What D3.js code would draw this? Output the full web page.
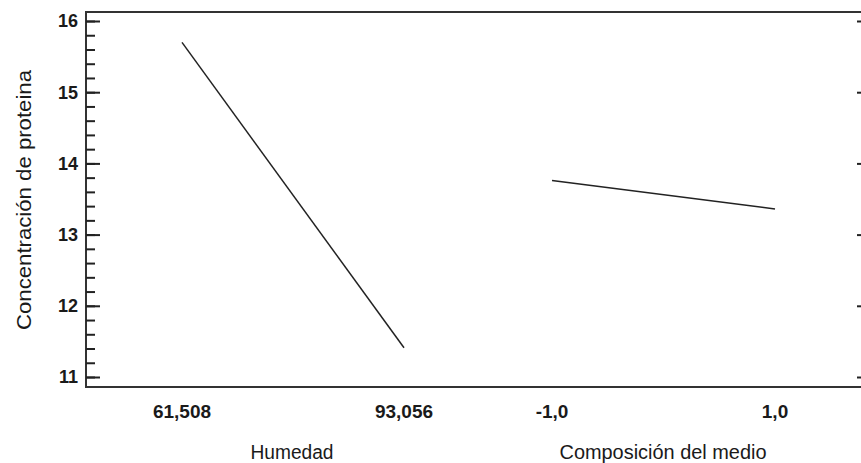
<!DOCTYPE html>
<html lang="es">
  <head>
    <meta charset="UTF-8" />
    <title>Efectos principales - Concentración de proteina</title>
    <script src="https://d3js.org/d3.v7.min.js"></script>
    <style>
      body {
        margin: 0;
        background: #fff;
      }
      text {
        font-family: "Liberation Sans", Arial, sans-serif;
        fill: #1a1a1a;
      }
      .frame {
        fill: none;
        stroke: #333;
        stroke-width: 2px;
      }
      .effect {
        fill: none;
        stroke: #222;
        stroke-width: 1.5px;
      }
    </style>
  </head>
  <body>
    <svg width="861" height="463"></svg>
    <script>
      // factor levels and the mean response at each level
      const humedadLevels = [61.508, 93.056];
      const humedadLabels = ["61,508", "93,056"];
      const humedadMeans = [15.7, 11.41];

      const medioLevels = [-1, 1];
      const medioLabels = ["-1,0", "1,0"];
      const medioMeans = [13.76, 13.36];

      const yTicks = [11, 12, 13, 14, 15, 16];
      const yTitle = "Concentración de proteina";
      const xTitles = ["Humedad", "Composición del medio"];

      const svg = d3.select("svg");
      const mLeft = 86, mRight = 871, mTop = 12, mBottom = 387;

      const y = d3.scaleLinear().domain([11, 16]).range([377, 21]);
      const xHum = d3.scaleLinear().domain(humedadLevels).range([182, 404]);
      const xMed = d3.scaleLinear().domain(medioLevels).range([552, 775]);

      // plot frame
      svg.append("rect")
        .attr("class", "frame")
        .attr("x", mLeft)
        .attr("y", mTop)
        .attr("width", mRight - mLeft)
        .attr("height", mBottom - mTop);

      // left axis, ticks pointing inward
      const minor = d3.range(11, 16.001, 0.2).map((v) => +v.toFixed(1));
      const yAxis = svg.append("g").attr("transform", `translate(${mLeft},0)`);
      yAxis.call(
        d3.axisRight(y).tickValues(minor).tickSize(9).tickFormat("")
      );
      yAxis.call((g) => g.select(".domain").remove());
      const yMajor = svg.append("g").attr("transform", `translate(${mLeft},0)`);
      yMajor.call(d3.axisRight(y).tickValues(yTicks).tickSize(14).tickFormat(""));
      yMajor.call((g) => g.select(".domain").remove());

      // right axis (mostly outside the picture)
      const yRight = svg.append("g").attr("transform", `translate(${mRight},0)`);
      yRight.call(d3.axisLeft(y).tickValues(yTicks).tickSize(14).tickFormat(""));
      yRight.call((g) => g.select(".domain").remove());
      svg.selectAll(".tick line").attr("stroke", "#222").attr("stroke-width", 2);

      svg.append("g")
        .selectAll("text")
        .data(yTicks)
        .join("text")
        .attr("x", 78)
        .attr("y", (d) => y(d))
        .attr("dy", "0.36em")
        .attr("text-anchor", "end")
        .attr("font-size", 18)
        .attr("font-weight", "bold")
        .text((d) => d);

      // y title
      svg.append("text")
        .attr("transform", "translate(31,200) rotate(-90)")
        .attr("text-anchor", "middle")
        .attr("font-size", 21)
        .attr("textLength", 260)
        .attr("lengthAdjust", "spacingAndGlyphs")
        .text(yTitle);

      // x labels
      const xLab = svg.append("g").attr("font-size", 19).attr("font-weight", "bold");
      humedadLevels.forEach((v, i) => {
        xLab.append("text")
          .attr("x", xHum(v))
          .attr("y", 418)
          .attr("text-anchor", "middle")
          .text(humedadLabels[i]);
      });
      medioLevels.forEach((v, i) => {
        xLab.append("text")
          .attr("x", xMed(v))
          .attr("y", 418)
          .attr("text-anchor", "middle")
          .text(medioLabels[i]);
      });

      svg.append("text")
        .attr("x", 292)
        .attr("y", 459)
        .attr("text-anchor", "middle")
        .attr("font-size", 20)
        .attr("textLength", 83)
        .attr("lengthAdjust", "spacingAndGlyphs")
        .text(xTitles[0]);
      svg.append("text")
        .attr("x", 663)
        .attr("y", 459)
        .attr("text-anchor", "middle")
        .attr("font-size", 20)
        .attr("textLength", 207)
        .attr("lengthAdjust", "spacingAndGlyphs")
        .text(xTitles[1]);

      // main effect lines
      const line = d3.line();
      svg.append("path")
        .attr("class", "effect")
        .attr("d", line(humedadLevels.map((v, i) => [xHum(v), y(humedadMeans[i])])));
      svg.append("path")
        .attr("class", "effect")
        .attr("d", line(medioLevels.map((v, i) => [xMed(v), y(medioMeans[i])])));
    </script>
  </body>
</html>
